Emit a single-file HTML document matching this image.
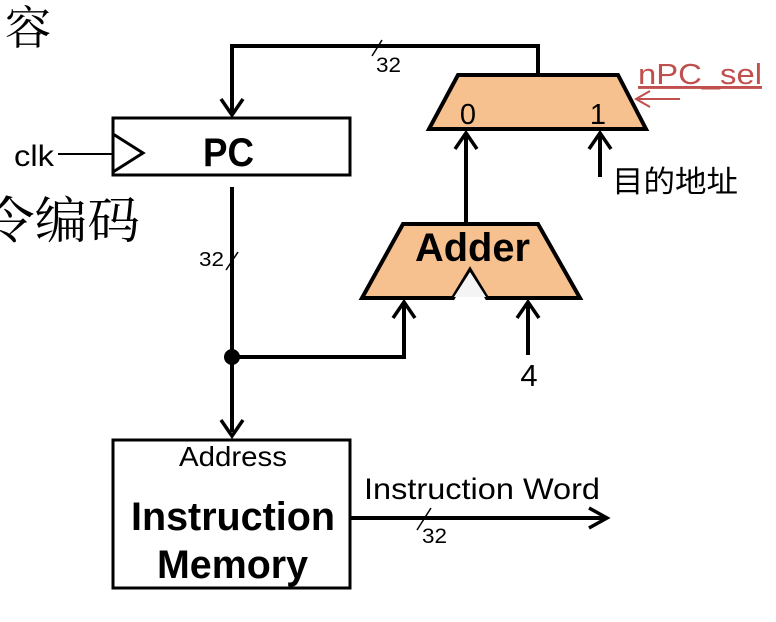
<!DOCTYPE html>
<html><head><meta charset="utf-8"><style>
body{margin:0;background:#fff;width:776px;height:622px;overflow:hidden}
svg{display:block}
.s{font-family:"Liberation Sans","Noto Sans CJK SC",sans-serif}
.c{font-family:"Noto Serif CJK SC","WenQuanYi Zen Hei",serif}
</style></head><body>
<svg width="776" height="622" viewBox="0 0 776 622">
<text class="c" x="5" y="44" font-size="46">容</text>
<text class="c" x="-18" y="238" font-size="50" textLength="158" lengthAdjust="spacingAndGlyphs">令编码</text>
<!-- feedback -->
<polyline points="538,76 538,46 232,46 232,113" fill="none" stroke="#000" stroke-width="4"/>
<path d="M221,99 L232,115 L243,99" fill="none" stroke="#000" stroke-width="3.5"/>
<line x1="372" y1="56" x2="382" y2="40" stroke="#000" stroke-width="1.5"/>
<g class="s">
<text x="376" y="72" font-size="21" textLength="25" lengthAdjust="spacingAndGlyphs">32</text>
<!-- PC -->
<rect x="113" y="118" width="237" height="57" fill="#fff" stroke="#000" stroke-width="3"/>
<path d="M113,134 L143,153 L113,172" fill="none" stroke="#000" stroke-width="3"/>
<text x="203" y="166" font-size="40" font-weight="bold" textLength="51" lengthAdjust="spacingAndGlyphs">PC</text>
<text x="14" y="166" font-size="30" textLength="40" lengthAdjust="spacingAndGlyphs">clk</text>
<line x1="58" y1="154" x2="113" y2="154" stroke="#000" stroke-width="2"/>
<!-- PC out -->
<polyline points="232,187 232,432" fill="none" stroke="#000" stroke-width="4"/>
<path d="M221,420 L232,436 L243,420" fill="none" stroke="#000" stroke-width="3.5"/>
<line x1="226" y1="270" x2="238" y2="252" stroke="#000" stroke-width="1.5"/>
<text x="199" y="266" font-size="20" textLength="25" lengthAdjust="spacingAndGlyphs">32</text>
<circle cx="232" cy="357" r="8" fill="#000"/>
<polyline points="232,357 404,357 404,302" fill="none" stroke="#000" stroke-width="4"/>
<path d="M393,318 L404,302 L415,318" fill="none" stroke="#000" stroke-width="3.5"/>
<!-- Adder -->
<polygon points="403,224 538,224 580,298 487,298 470,270 453,298 362,298" fill="#f7c18f" stroke="#000" stroke-width="4"/>
<polygon points="470,272 486,297 454,297" fill="#f4f4f4"/>
<text x="415" y="261" font-size="40" font-weight="bold" textLength="115" lengthAdjust="spacingAndGlyphs">Adder</text>
<line x1="528" y1="355" x2="528" y2="302" stroke="#000" stroke-width="4"/>
<path d="M517,318 L528,302 L539,318" fill="none" stroke="#000" stroke-width="3.5"/>
<text x="529" y="386" font-size="31" text-anchor="middle">4</text>
<!-- adder to mux -->
<line x1="466" y1="224" x2="466" y2="133" stroke="#000" stroke-width="4"/>
<path d="M455,149 L466,133 L477,149" fill="none" stroke="#000" stroke-width="3.5"/>
<!-- mux -->
<polygon points="458,75 618,75 646,129 429,129" fill="#f7c18f" stroke="#000" stroke-width="4"/>
<text x="468" y="124" font-size="29" text-anchor="middle">0</text>
<text x="598" y="124" font-size="29" text-anchor="middle">1</text>
<line x1="600" y1="177" x2="600" y2="133" stroke="#000" stroke-width="4"/>
<path d="M589,149 L600,133 L611,149" fill="none" stroke="#000" stroke-width="3.5"/>
<text x="612" y="192" font-size="30" textLength="126" lengthAdjust="spacingAndGlyphs">目的地址</text>
<text x="638" y="84" font-size="29" fill="#c0504d" text-decoration="underline" textLength="124" lengthAdjust="spacingAndGlyphs">nPC_sel</text>
<line x1="680" y1="99" x2="636" y2="99" stroke="#c0504d" stroke-width="2"/>
<path d="M650,91 L636,99 L650,107" fill="none" stroke="#c0504d" stroke-width="2"/>
<!-- IM -->
<rect x="113" y="440" width="237" height="148" fill="#fff" stroke="#000" stroke-width="3"/>
<text x="179" y="466" font-size="28" textLength="108" lengthAdjust="spacingAndGlyphs">Address</text>
<text x="131" y="530" font-size="40" font-weight="bold" textLength="204" lengthAdjust="spacingAndGlyphs">Instruction</text>
<text x="157" y="578" font-size="40" font-weight="bold" textLength="151" lengthAdjust="spacingAndGlyphs">Memory</text>
<line x1="350" y1="518" x2="606" y2="518" stroke="#000" stroke-width="4"/>
<path d="M589,508 L607,518 L589,528" fill="none" stroke="#000" stroke-width="3.5"/>
<line x1="417" y1="530" x2="431" y2="508" stroke="#000" stroke-width="1.5"/>
<text x="422" y="543" font-size="21" textLength="25" lengthAdjust="spacingAndGlyphs">32</text>
<text x="364" y="499" font-size="30" textLength="236" lengthAdjust="spacingAndGlyphs">Instruction Word</text>
</g>
</svg>
</body></html>
